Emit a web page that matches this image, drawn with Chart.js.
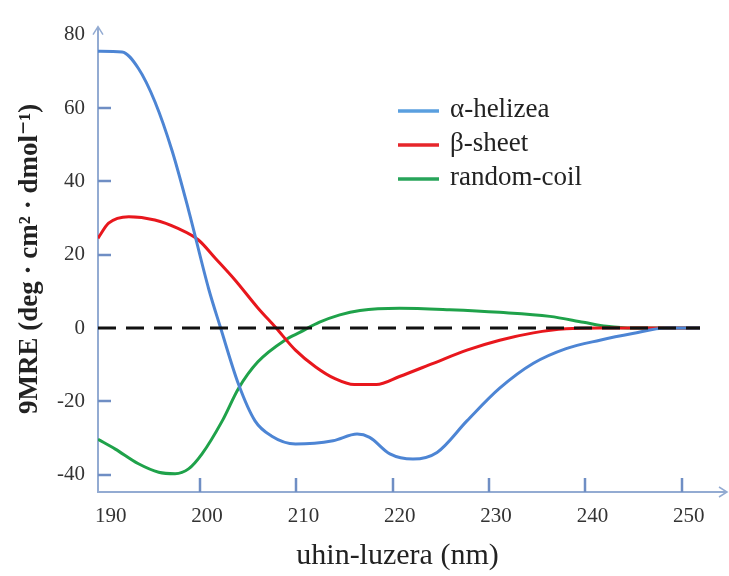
<!DOCTYPE html>
<html>
<head>
<meta charset="utf-8">
<title>CD spectra</title>
<script src="https://cdn.jsdelivr.net/npm/chart.js@4.4.1/dist/chart.umd.min.js"></script>
<style>
  html, body { margin: 0; padding: 0; background: #fff; }
</style>
</head>
<body>
<canvas id="cdChart" width="729" height="576"></canvas>
<script>
// Wavelength (nm) / molar ellipticity values
const helixNm  = [189.4, 191.9, 193.6, 195.3, 197.1, 198.8, 200.9, 202.1, 204.0, 205.7, 207.4, 209.9, 213.8,
                  216.3, 217.6, 219.7, 222.1, 224.6, 227.7, 231.1, 234.6, 238.0, 241.5, 244.9, 248.4, 251.9];
const helixVal = [75.5, 75.3, 70.8, 61.8, 48.3, 32.2, 10.6, 0.3, -15.4, -25.3, -29.4, -31.6, -30.7,
                  -28.9, -29.8, -34.3, -35.7, -33.9, -25.3, -16.4, -9.6, -5.6, -3.3, -1.5, 0, 0];

const sheetNm  = [189.4, 190.5, 192.6, 195.3, 197.7, 199.8, 201.6, 203.6, 206.0, 207.8, 209.9,
                  212.0, 214.0, 216.0, 218.3, 220.7, 224.2, 227.7, 231.1, 234.6, 238.0, 241.5, 251.9];
const sheetVal = [24.5, 28.6, 30.4, 29.5, 27.2, 24.1, 19.0, 13.2, 5.5, 0.3, -6.0,
                  -10.6, -13.8, -15.4, -15.4, -13.2, -9.6, -6.0, -3.3, -1.3, -0.2, 0, 0];

const coilNm   = [189.4, 191.2, 193.6, 195.7, 197.4, 198.8, 200.2, 202.3, 204.0, 206.0, 208.8,
                  210.4, 212.4, 214.5, 216.6, 220.7, 225.9, 231.1, 236.3, 239.8, 242.2, 245.0, 251.9];
const coilVal  = [-30.3, -33.0, -37.0, -39.3, -39.7, -38.4, -34.3, -25.3, -16.4, -9.2, -3.3,
                  -1.1, 1.6, 3.6, 4.8, 5.4, 5.0, 4.3, 3.2, 1.6, 0.5, 0, 0];

const zeroNm   = [189.4, 251.9];
const zeroVal  = [0, 0];

const seriesNames = ['α-helizea', 'β-sheet', 'random-coil'];
const xTicks = [190, 200, 210, 220, 230, 240, 250];
const yTicks = [-40, -20, 0, 20, 40, 60, 80];
const xMarks = [200, 210, 220, 230, 240, 250];   // little tick marks on the axis
const yMarks = [-40, -20, 20, 40, 60];

const AXIS = '#93abd2';
const MARK = '#6f8ec4';
const SERIF = '"Liberation Serif", "DejaVu Serif", serif';

function pts(xs, ys){ return xs.map((v, i) => ({ x: v, y: ys[i] })); }

// axis lines with arrows + inward tick marks, and the legend inside the plot
const sketchAxes = {
  id: 'sketchAxes',
  beforeDatasetsDraw(chart){
    const { ctx, chartArea: a, scales: { x, y } } = chart;
    ctx.save();
    ctx.strokeStyle = AXIS;
    ctx.lineWidth = 2;
    ctx.beginPath();
    ctx.moveTo(a.left, a.top + 2);
    ctx.lineTo(a.left, a.bottom);
    ctx.lineTo(a.right, a.bottom);
    ctx.stroke();
    ctx.lineWidth = 1.5;
    ctx.beginPath();
    ctx.moveTo(a.left - 5, a.top + 9); ctx.lineTo(a.left, a.top + 1); ctx.lineTo(a.left + 5, a.top + 9);
    ctx.moveTo(a.right - 8, a.bottom - 5); ctx.lineTo(a.right, a.bottom); ctx.lineTo(a.right - 8, a.bottom + 5);
    ctx.stroke();

    ctx.strokeStyle = MARK;
    ctx.lineWidth = 2.5;
    ctx.beginPath();
    yMarks.forEach(v => {
      const py = Math.round(y.getPixelForValue(v));
      ctx.moveTo(a.left, py); ctx.lineTo(a.left + 13, py);
    });
    xMarks.forEach(v => {
      const px = Math.round(x.getPixelForValue(v));
      ctx.moveTo(px, a.bottom); ctx.lineTo(px, a.bottom - 14);
    });
    ctx.stroke();
    ctx.restore();
  },
  afterDraw(chart){
    const { ctx } = chart;
    ctx.save();
    ctx.font = '27px ' + SERIF;
    ctx.textBaseline = 'middle';
    chart.data.datasets.slice(0, 3).forEach((ds, i) => {
      const ly = 111 + i * 34;
      ctx.strokeStyle = ds.legendColor;
      ctx.lineWidth = 3.5;
      ctx.beginPath();
      ctx.moveTo(398, ly); ctx.lineTo(439, ly);
      ctx.stroke();
      ctx.fillStyle = '#222';
      ctx.fillText(ds.label, 450, ly - 1);
    });
    ctx.restore();
  }
};

const lineBase = { showLine: true, pointRadius: 0, borderWidth: 3, fill: false,
                   cubicInterpolationMode: 'monotone', order: 1 };

new Chart(document.getElementById('cdChart'), {
  type: 'scatter',
  data: {
    datasets: [
      { ...lineBase, label: seriesNames[0], data: pts(helixNm, helixVal), borderColor: '#4d85d4', legendColor: '#5a9fdf' },
      { ...lineBase, label: seriesNames[1], data: pts(sheetNm, sheetVal), borderColor: '#e8171d', legendColor: '#e6262b' },
      { ...lineBase, label: seriesNames[2], data: pts(coilNm, coilVal), borderColor: '#1fa24a', legendColor: '#27a45a' },
      { label: 'zero', data: pts(zeroNm, zeroVal), showLine: true, pointRadius: 0, borderWidth: 3,
        borderColor: '#111', borderDash: [18, 10], order: 0 }
    ]
  },
  options: {
    responsive: false,
    animation: false,
    layout: { padding: { top: 20, right: 2, left: 0, bottom: 0 } },
    plugins: { legend: { display: false }, tooltip: { enabled: false } },
    scales: {
      x: {
        type: 'linear', min: 189.4, max: 254.7,
        afterBuildTicks: s => { s.ticks = xTicks.map(v => ({ value: v })); },
        afterFit: s => { s.height = 84; },
        grid: { display: false, drawTicks: false },
        border: { display: false },
        ticks: { color: '#333', padding: 12, labelOffset: 7, font: { family: SERIF, size: 21 } },
        title: { display: true, text: 'uhin-luzera (nm)\u2002\u2002', color: '#222', padding: { top: 4, bottom: 2 },
                 font: { family: SERIF, size: 30 } }
      },
      y: {
        type: 'linear', min: -44.7, max: 82.5,
        afterBuildTicks: s => { s.ticks = yTicks.map(v => ({ value: v })); },
        afterFit: s => { s.width = 98; },
        grid: { display: false, drawTicks: false },
        border: { display: false },
        ticks: { color: '#333', padding: 13, font: { family: SERIF, size: 21 } },
        title: { display: true, text: '9MRE (deg · cm² · dmol⁻¹)', color: '#222', padding: { top: 14, bottom: 0 },
                 font: { family: SERIF, size: 27, weight: 'bold' } }
      }
    }
  },
  plugins: [sketchAxes]
});
</script>
</body>
</html>
